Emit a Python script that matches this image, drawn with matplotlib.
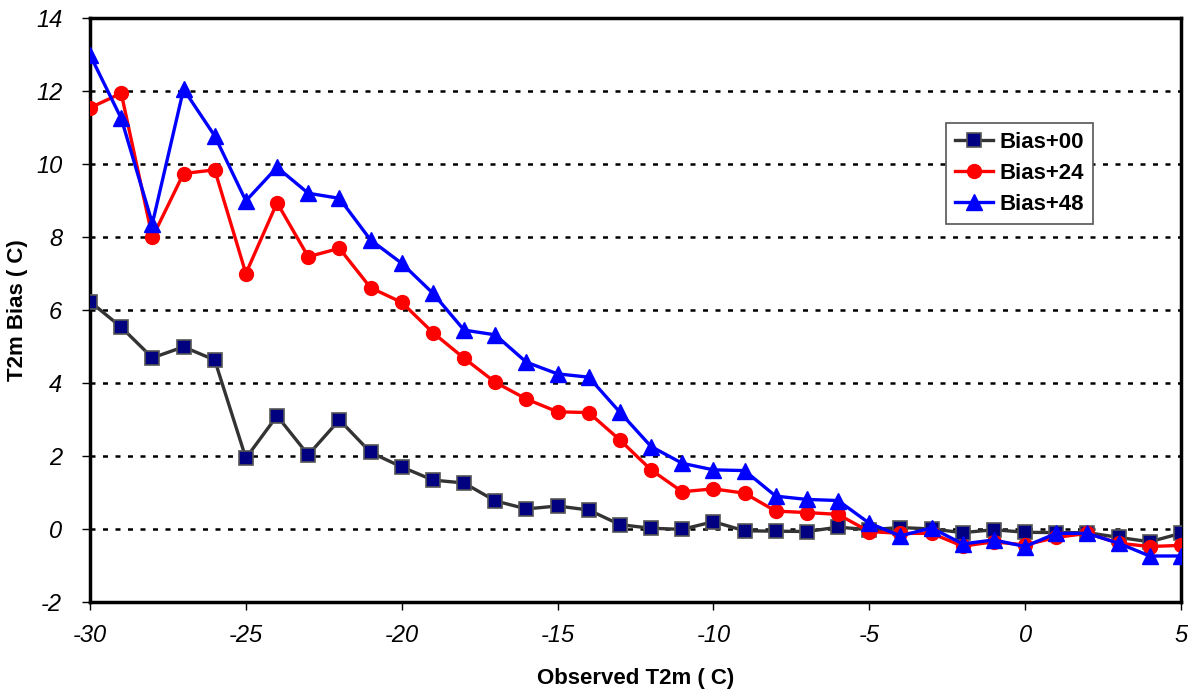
import matplotlib.pyplot as plt
import numpy as np

# observed temperature bins
temps = list(range(-30, 6))

bias00 = [6.23, 5.53, 4.69, 4.99, 4.63, 1.94, 3.10, 2.03, 2.99, 2.10,
          1.70, 1.34, 1.26, 0.77, 0.55, 0.63, 0.52, 0.12, 0.02, -0.01,
          0.20, -0.05, -0.06, -0.07, 0.05, -0.02, 0.04, 0.00, -0.10, -0.02,
          -0.09, -0.10, -0.10, -0.23, -0.35, -0.12]
bias24 = [11.54, 11.94, 7.99, 9.74, 9.84, 7.00, 8.94, 7.46, 7.69, 6.61,
          6.21, 5.38, 4.68, 4.02, 3.56, 3.21, 3.19, 2.44, 1.62, 1.02,
          1.10, 0.98, 0.49, 0.45, 0.40, -0.07, -0.12, -0.12, -0.47, -0.35,
          -0.44, -0.23, -0.12, -0.39, -0.48, -0.45]
bias48 = [12.99, 11.25, 8.37, 12.05, 10.77, 8.99, 9.91, 9.20, 9.06, 7.92,
          7.28, 6.46, 5.45, 5.32, 4.57, 4.25, 4.16, 3.20, 2.26, 1.80,
          1.62, 1.60, 0.90, 0.81, 0.78, 0.16, -0.19, 0.03, -0.41, -0.30,
          -0.48, -0.12, -0.12, -0.39, -0.74, -0.74]

plt.rcParams['font.family'] = ['Liberation Sans', 'DejaVu Sans']
plt.rcParams['axes.unicode_minus'] = False

fig = plt.figure(figsize=(11.88, 6.94), dpi=100)
ax = fig.add_axes([0.0758, 0.1326, 0.9182, 0.8414])

# grid lines behind the data
for yv in range(0, 14, 2):
    ax.axhline(yv, color='black', lw=1.8, linestyle=(0, (2, 3)), zorder=1)

ax.plot(temps, bias00, color='#333333', lw=2.4, marker='s', markersize=10,
        markerfacecolor='#000080', markeredgecolor='#555555', markeredgewidth=1.2,
        label='Bias+00', zorder=3)
ax.plot(temps, bias24, color='#ff0000', lw=2.4, marker='o', markersize=10,
        markerfacecolor='#ff0000', markeredgecolor='#ff0000',
        label='Bias+24', zorder=4)
ax.plot(temps, bias48, color='#0000ff', lw=2.4, marker='^', markersize=11,
        markerfacecolor='#0000ff', markeredgecolor='#0000ff',
        label='Bias+48', zorder=5)

ax.set_xlim(-30, 5)
ax.set_ylim(-2, 14)
ax.set_xticks(range(-30, 6, 5))
ax.set_yticks(range(-2, 15, 2))

for s in ax.spines.values():
    s.set_linewidth(2.5)
    s.set_color('black')

ax.tick_params(direction='out', length=6, width=1, labelsize=17)
ax.tick_params(axis='y', pad=14)
ax.tick_params(axis='x', pad=10)
for lab in ax.get_xticklabels() + ax.get_yticklabels():
    lab.set_fontstyle('italic')

ax.set_xlabel('Observed T2m ( C)', fontsize=16, fontweight='bold')
ax.set_ylabel('T2m Bias ( C)', fontsize=16, fontweight='bold')
ax.xaxis.set_label_coords(0.5, -0.113)
ax.yaxis.set_label_coords(-0.057, 0.5)

leg = ax.legend(loc='upper left', bbox_to_anchor=(0.7745, 0.839), fancybox=False,
                edgecolor='#555555', framealpha=1, handlelength=1.7,
                prop={'weight': 'bold', 'size': 16}, borderpad=0.4,
                labelspacing=0.45, handletextpad=0.3)
leg.get_frame().set_linewidth(1.2)

plt.savefig('out.png', dpi=100)
